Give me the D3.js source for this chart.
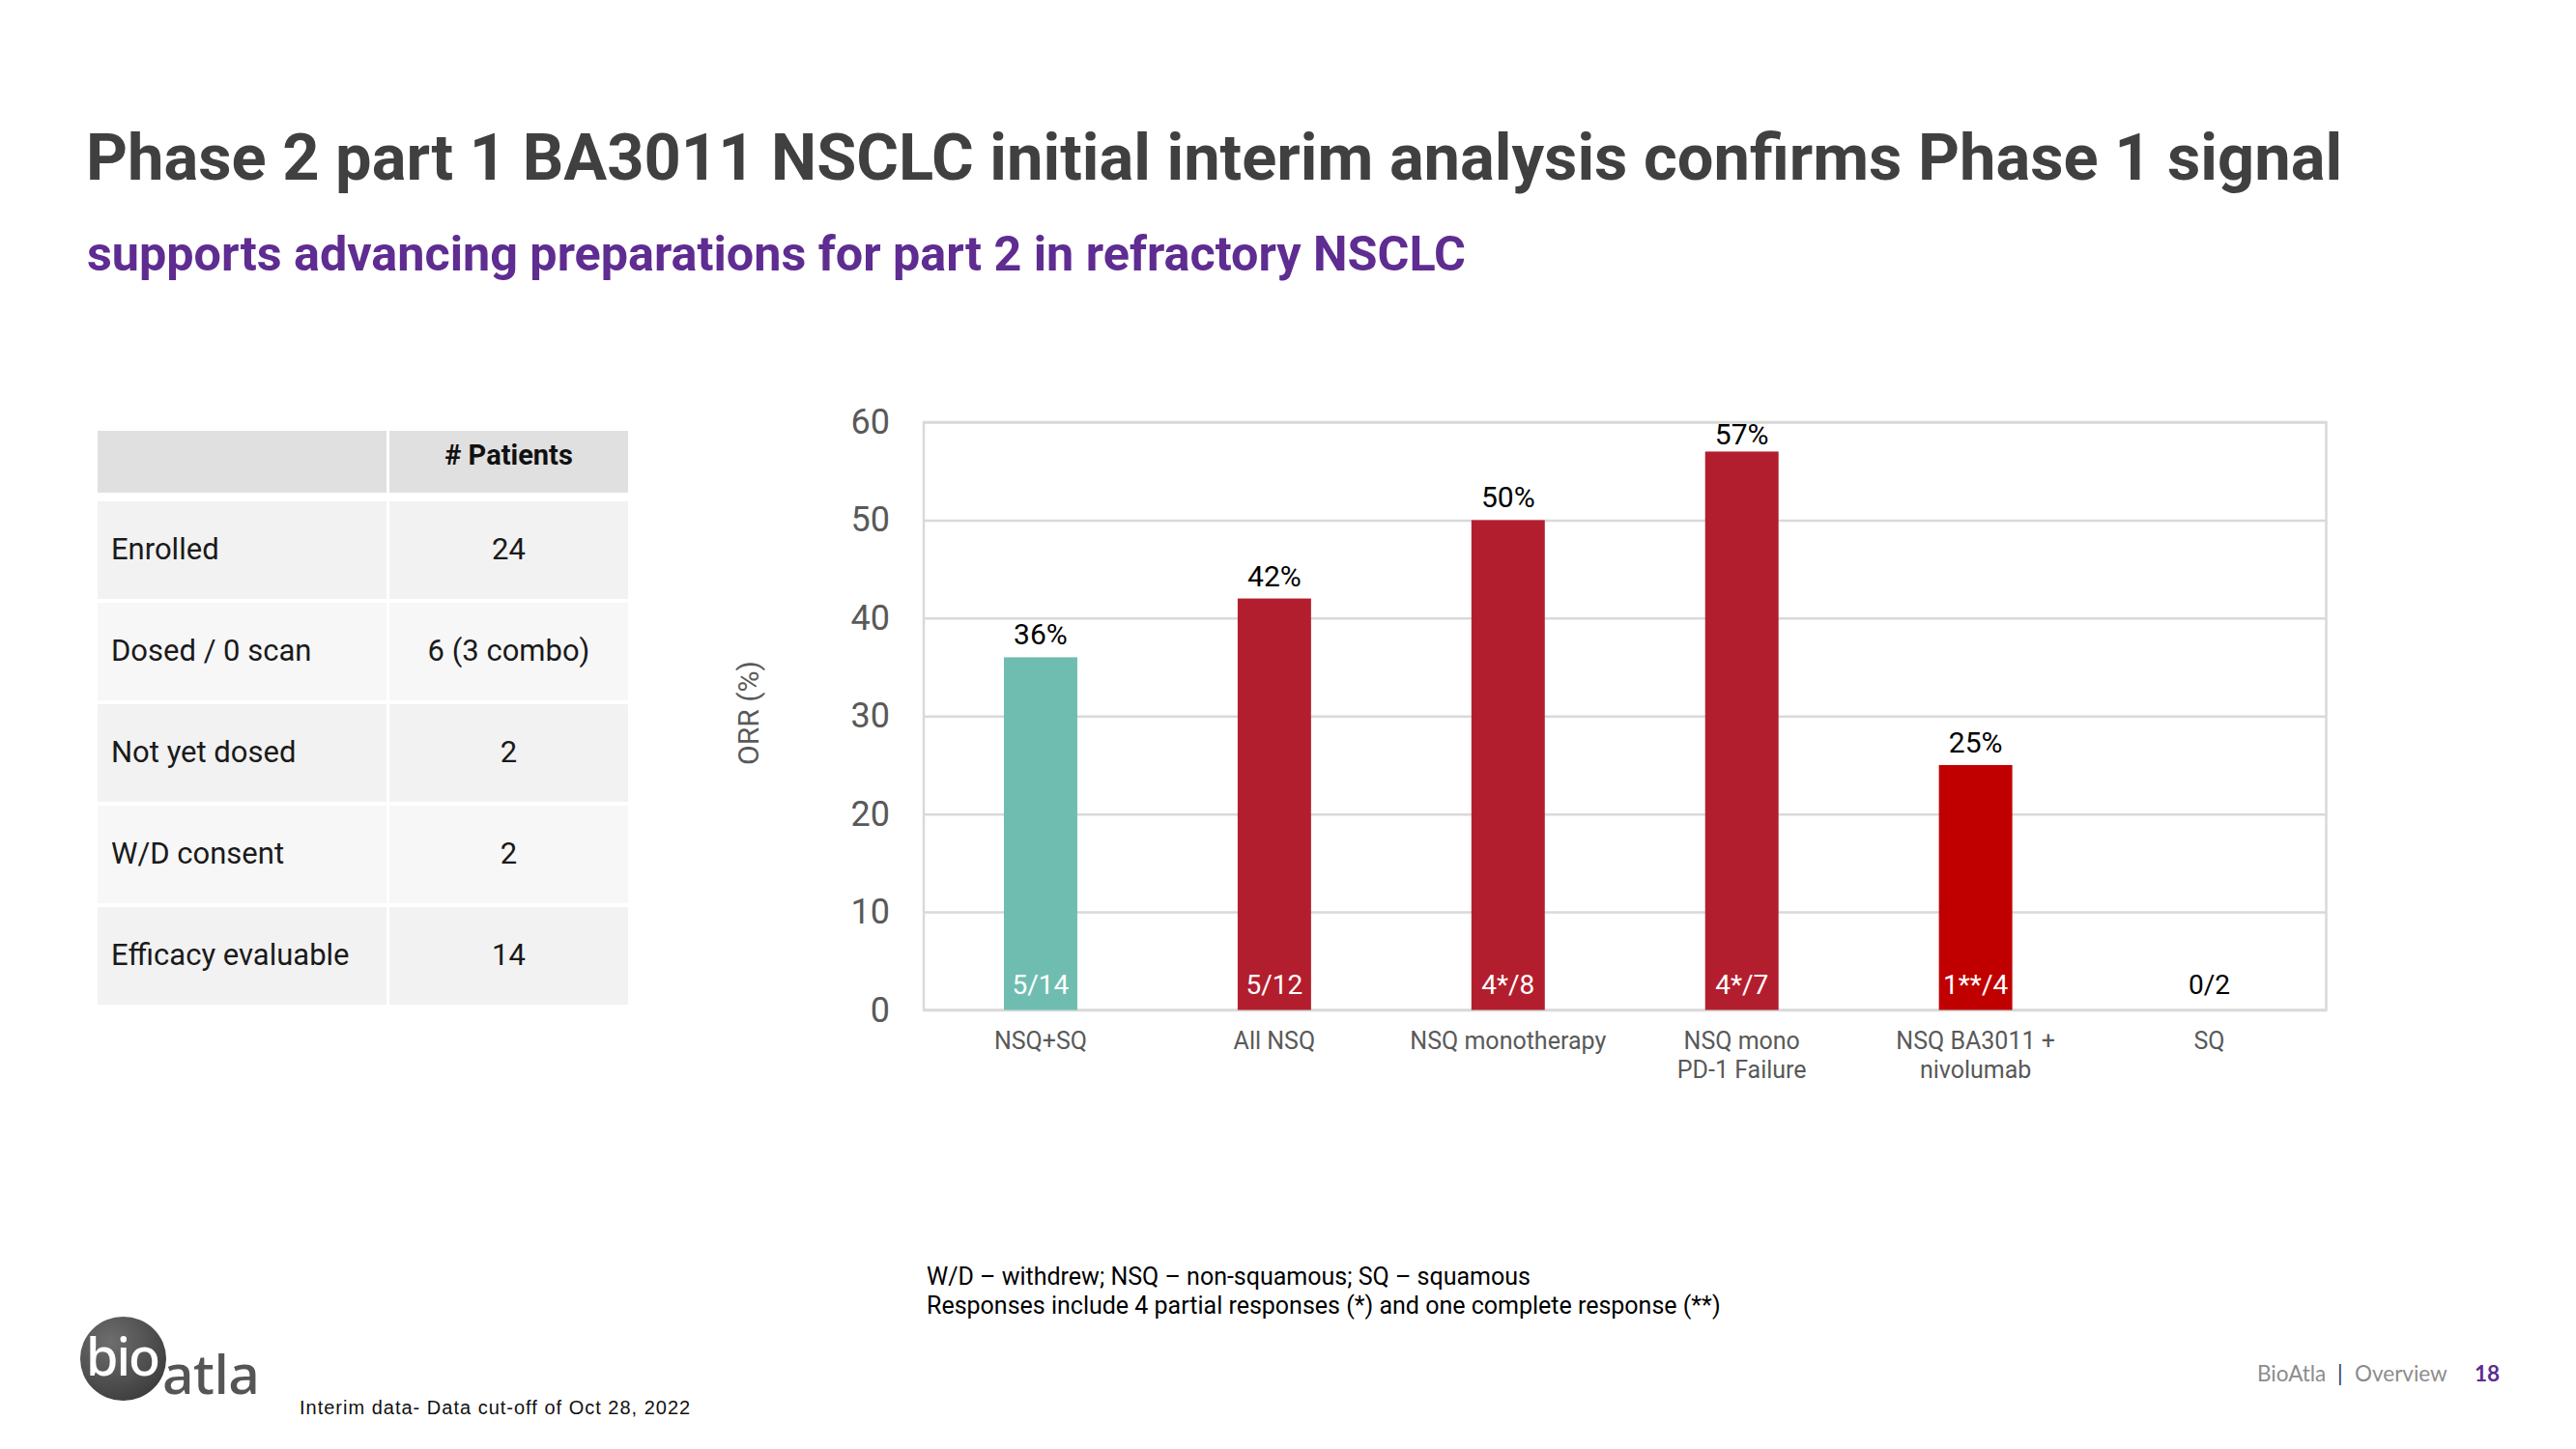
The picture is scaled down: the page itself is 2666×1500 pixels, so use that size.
<!DOCTYPE html>
<html>
<head>
<meta charset="utf-8">
<script src="https://cdn.jsdelivr.net/npm/d3@7"></script>
<style>
  html, body { margin: 0; padding: 0; background: #ffffff; }
  svg { display: block; }
</style>
</head>
<body>
<svg id="slide" width="2666" height="1500"></svg>
<script>
// ---------- DATA ----------
const categories = ["NSQ+SQ", "All NSQ", "NSQ monotherapy", "NSQ mono\nPD-1 Failure", "NSQ BA3011 +\nnivolumab", "SQ"];
const orrValues = [36, 42, 50, 57, 25, 0];
const pctLabels = ["36%", "42%", "50%", "57%", "25%", ""];
const ratioLabels = ["5/14", "5/12", "4*/8", "4*/7", "1**/4", "0/2"];
const yTicks = [0, 10, 20, 30, 40, 50, 60];

const tableHeader = ["", "# Patients"];
const tableRows = ["Enrolled", "Dosed / 0 scan", "Not yet dosed", "W/D consent", "Efficacy evaluable"];
const tableValues = ["24", "6 (3 combo)", "2", "2", "14"];

const titleText = "Phase 2 part 1 BA3011 NSCLC initial interim analysis confirms Phase 1 signal";
const subtitleText = "supports advancing preparations for part 2 in refractory NSCLC";
const yAxisTitle = "ORR (%)";
const footnotes = ["W/D \u2013 withdrew; NSQ \u2013 non-squamous; SQ \u2013 squamous",
                   "Responses include 4 partial responses (*) and one complete response (**)"];
const cutoffText = "Interim data- Data cut-off of Oct 28, 2022";

// ---------- STYLE ----------
const barColors = ["#6FBDB0", "#B31E2E", "#B31E2E", "#B31E2E", "#C00000", "#B31E2E"];
const FONT = "Roboto, 'Noto Sans', sans-serif";

const svg = d3.select("#slide");

// ---------- TITLES ----------
svg.append("text").attr("x", 89).attr("y", 186)
  .attr("font-family", FONT).attr("font-weight", 700).attr("font-size", 66.8)
  .attr("fill", "#404040").text(titleText);
svg.append("text").attr("x", 90).attr("y", 280)
  .attr("font-family", FONT).attr("font-weight", 700).attr("font-size", 50.3)
  .attr("fill", "#5F2C91").text(subtitleText);

// ---------- TABLE ----------
const tbl = svg.append("g");
const colX = [101, 403], colW = [299, 247];
tbl.selectAll("rect.hdr").data(tableHeader).join("rect")
  .attr("x", (d, i) => colX[i]).attr("y", 446).attr("width", (d, i) => colW[i]).attr("height", 64)
  .attr("fill", "#E0E0E0");
tbl.append("text").attr("x", colX[1] + colW[1] / 2).attr("y", 481)
  .attr("text-anchor", "middle").attr("font-family", FONT).attr("font-weight", 700)
  .attr("font-size", 29).attr("fill", "#111").text(tableHeader[1]);

const rowTop = i => 519 + i * 105;
const rowG = tbl.selectAll("g.row").data(tableRows).join("g").attr("class", "row");
rowG.each(function (d, i) {
  const g = d3.select(this);
  const fill = i % 2 === 0 ? "#F2F2F2" : "#F7F7F7";
  [0, 1].forEach(c => g.append("rect").attr("x", colX[c]).attr("y", rowTop(i))
      .attr("width", colW[c]).attr("height", 101).attr("fill", fill));
  g.append("text").attr("x", 115).attr("y", rowTop(i) + 60)
    .attr("font-family", FONT).attr("font-size", 31).attr("fill", "#1A1A1A").text(d);
  g.append("text").attr("x", colX[1] + colW[1] / 2).attr("y", rowTop(i) + 60)
    .attr("text-anchor", "middle").attr("font-family", FONT).attr("font-size", 31)
    .attr("fill", "#1A1A1A").text(tableValues[i]);
});

// ---------- CHART ----------
const plot = { left: 956, right: 2407.5, top: 437, bottom: 1045.5 };
const x = d3.scaleBand().domain(categories).range([plot.left, plot.right])
  .paddingInner(0.686).paddingOuter(0.343);
const y = d3.scaleLinear().domain([0, 60]).range([plot.bottom, plot.top]);
const color = d3.scaleOrdinal().domain(categories).range(barColors);

const chart = svg.append("g");

// gridlines
chart.append("g").attr("transform", `translate(${plot.left},0)`)
  .call(d3.axisLeft(y).tickValues(yTicks).tickSize(-(plot.right - plot.left)).tickFormat(""))
  .call(g => g.select(".domain").remove())
  .call(g => g.selectAll(".tick line").attr("stroke", "#D9D9D9").attr("stroke-width", 2.5));
// frame
chart.append("rect").attr("x", plot.left).attr("y", plot.top)
  .attr("width", plot.right - plot.left).attr("height", plot.bottom - plot.top)
  .attr("fill", "none").attr("stroke", "#D9D9D9").attr("stroke-width", 2.5);

// y axis labels
chart.append("g").attr("transform", `translate(${plot.left},0)`)
  .call(d3.axisLeft(y).tickValues(yTicks).tickSize(0).tickPadding(35))
  .call(g => g.select(".domain").remove())
  .call(g => g.selectAll("text").attr("font-family", FONT).attr("font-size", 36).attr("fill", "#595959"));

// y axis title
chart.append("text")
  .attr("transform", `translate(785,738) rotate(-90)`)
  .attr("text-anchor", "middle").attr("font-family", FONT).attr("font-size", 30)
  .attr("fill", "#595959").text(yAxisTitle);

// x axis labels
const xAxis = chart.append("g").attr("transform", `translate(0,${plot.bottom})`)
  .call(d3.axisBottom(x).tickSize(0).tickPadding(0).tickFormat(""))
  .call(g => g.select(".domain").remove());
xAxis.selectAll(".tick").each(function (d) {
  const t = d3.select(this).select("text");
  t.attr("font-family", FONT).attr("font-size", 25).attr("fill", "#595959").attr("y", 0).attr("dy", null);
  d.split("\n").forEach((line, k) => {
    t.append("tspan").attr("x", 0).attr("y", 40 + k * 30).text(line);
  });
});

// bars
const data = categories.map((c, i) => ({ c, v: orrValues[i], pct: pctLabels[i], ratio: ratioLabels[i] }));
chart.selectAll("rect.bar").data(data.filter(d => d.v > 0)).join("rect").attr("class", "bar")
  .attr("x", d => x(d.c)).attr("width", x.bandwidth())
  .attr("y", d => y(d.v)).attr("height", d => y(0) - y(d.v))
  .attr("fill", d => color(d.c));

// value labels
chart.selectAll("text.pct").data(data).join("text").attr("class", "pct")
  .attr("x", d => x(d.c) + x.bandwidth() / 2).attr("y", d => Math.max(y(d.v) - 13, plot.top + 23))
  .attr("text-anchor", "middle").attr("font-family", FONT).attr("font-size", 30)
  .attr("fill", "#000").text(d => d.pct);

// ratio labels
chart.selectAll("text.ratio").data(data).join("text").attr("class", "ratio")
  .attr("x", d => x(d.c) + x.bandwidth() / 2).attr("y", y(0) - 17)
  .attr("text-anchor", "middle").attr("font-family", FONT).attr("font-size", 28)
  .attr("fill", d => d.v > 0 ? "#FFFFFF" : "#000000").text(d => d.ratio);

// ---------- FOOTNOTES ----------
footnotes.forEach((f, i) => {
  svg.append("text").attr("x", 959).attr("y", 1330 + i * 30)
    .attr("font-family", FONT).attr("font-size", 25).attr("fill", "#000").text(f);
});
svg.append("text").attr("x", 310).attr("y", 1464)
  .attr("font-family", "'Liberation Sans', Arial, sans-serif").attr("font-size", 20)
  .attr("letter-spacing", 1).attr("fill", "#111").text(cutoffText);

// ---------- LOGO ----------
const defs = svg.append("defs");
const grad = defs.append("radialGradient").attr("id", "logoGrad").attr("cx", "35%").attr("cy", "30%").attr("r", "75%");
grad.append("stop").attr("offset", "0%").attr("stop-color", "#6E6E6E");
grad.append("stop").attr("offset", "100%").attr("stop-color", "#3E3E3E");
svg.append("ellipse").attr("cx", 127.5).attr("cy", 1406.5).attr("rx", 44.5).attr("ry", 43.5)
  .attr("fill", "url(#logoGrad)");
svg.append("text").attr("x", 89).attr("y", 1424).attr("font-family", "'Noto Sans', sans-serif")
  .attr("font-weight", 500).attr("font-size", 54).attr("letter-spacing", -2).attr("fill", "#FFFFFF").text("bio");
svg.append("text").attr("x", 168).attr("y", 1443).attr("font-family", "'Noto Sans', sans-serif")
  .attr("font-weight", 500).attr("font-size", 57).attr("letter-spacing", -0.5).attr("fill", "#555555").text("atla");

// ---------- PAGE FOOTER ----------
const ft = svg.append("text").attr("y", 1430).attr("font-family", "Lato, 'Noto Sans', sans-serif").attr("font-size", 22.5);
ft.append("tspan").attr("x", 2336).attr("fill", "#8C8C8C").text("BioAtla");
ft.append("tspan").attr("x", 2419).attr("fill", "#1F3864").text("|");
ft.append("tspan").attr("x", 2437).attr("fill", "#8C8C8C").text("Overview");
ft.append("tspan").attr("x", 2561).attr("fill", "#5F2C91").attr("font-weight", 700).text("18");
</script>
</body>
</html>
